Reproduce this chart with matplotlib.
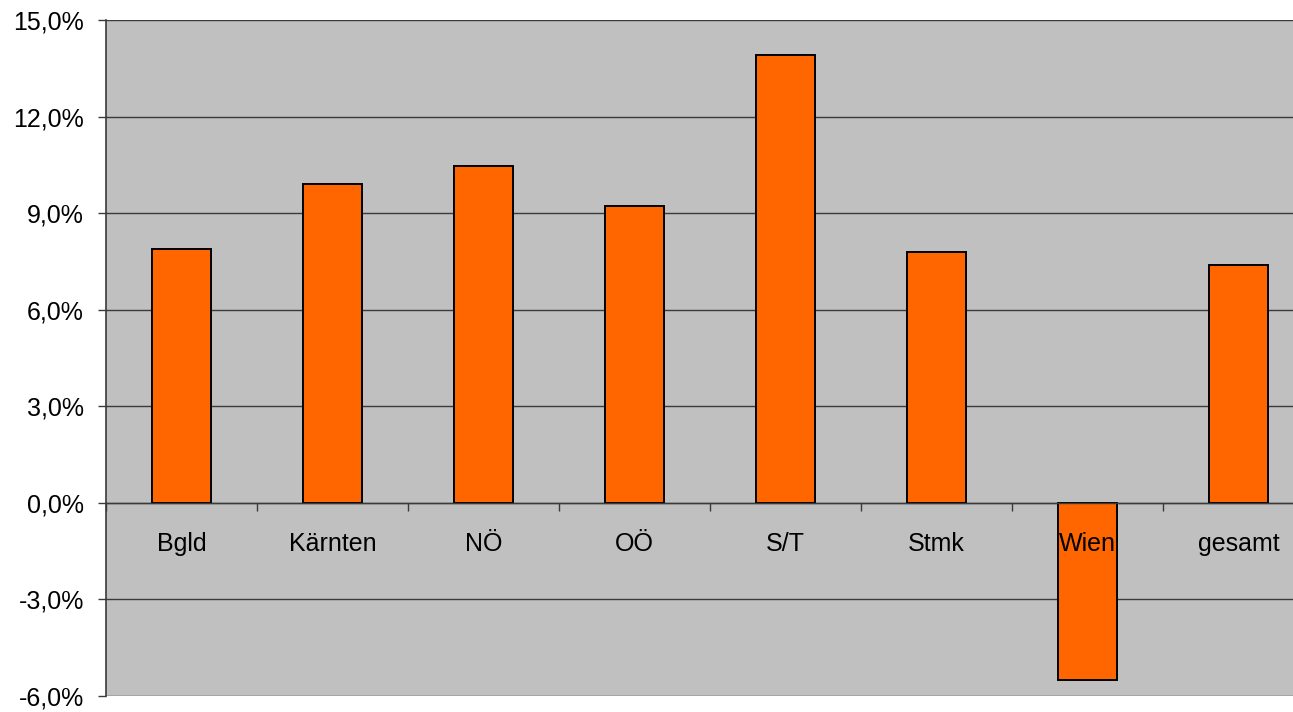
import matplotlib
matplotlib.use("Agg")
import matplotlib.pyplot as plt
from matplotlib.ticker import FixedLocator, FuncFormatter

# Veränderung je Bundesland (in Prozent)
regions = ["Bgld", "Kärnten", "NÖ", "OÖ", "S/T", "Stmk", "Wien", "gesamt"]
change_pct = [7.89, 9.89, 10.47, 9.22, 13.92, 7.78, -5.51, 7.39]
y_ticks = [-6, -3, 0, 3, 6, 9, 12, 15]

W, H, DPI = 1293, 712, 100
fig = plt.figure(figsize=(W / DPI, H / DPI), dpi=DPI)
fig.patch.set_facecolor("white")

# plot area runs past the right edge of the canvas
left, right, top, bottom = 106, 1314, 20, 695.7
ax = fig.add_axes([left / W, 1 - bottom / H, (right - left) / W, (bottom - top) / H])
ax.set_facecolor("#C0C0C0")
ax.set_axisbelow(False)

font = "Liberation Sans"
fs = 18

x = list(range(len(regions)))
ax.bar(x, change_pct, width=0.397, color="#FF6600", edgecolor="black",
       linewidth=1.4, zorder=2)

ax.set_xlim(-0.5, len(regions) - 0.5)
ax.set_ylim(y_ticks[0], y_ticks[-1])

# horizontal gridlines
for v in y_ticks:
    ax.axhline(v, color="#3a3a3a", linewidth=1.0, zorder=1)

# spines
for s in ["top", "right"]:
    ax.spines[s].set_visible(False)
ax.spines["left"].set_color("#3a3a3a")
ax.spines["left"].set_linewidth(1.2)
ax.spines["bottom"].set_position(("data", 0))
ax.spines["bottom"].set_color("#3a3a3a")
ax.spines["bottom"].set_linewidth(1.0)

# y axis
ax.yaxis.set_major_locator(FixedLocator(y_ticks))
ax.yaxis.set_major_formatter(FuncFormatter(lambda v, p: f"{v:.1f}%".replace(".", ",")))
ax.tick_params(axis="y", direction="out", length=6, width=1, color="#3a3a3a",
               pad=10, labelsize=fs)

# x axis: ticks between categories, labels at category centres
ax.xaxis.set_major_locator(FixedLocator([i + 0.5 for i in x[:-1]] + [-0.5]))
ax.xaxis.set_major_formatter(FuncFormatter(lambda v, p: ""))
ax.xaxis.set_minor_locator(FixedLocator(x))
ax.set_xticklabels(regions, minor=True)
ax.tick_params(axis="x", which="major", direction="out", length=6, width=1,
               color="#3a3a3a")
ax.tick_params(axis="x", which="minor", length=0, pad=21, labelsize=fs)

for lab in ax.get_xticklabels(minor=True) + ax.get_yticklabels():
    lab.set_fontfamily(font)
    lab.set_color("black")

fig.savefig("out.png", dpi=DPI)
